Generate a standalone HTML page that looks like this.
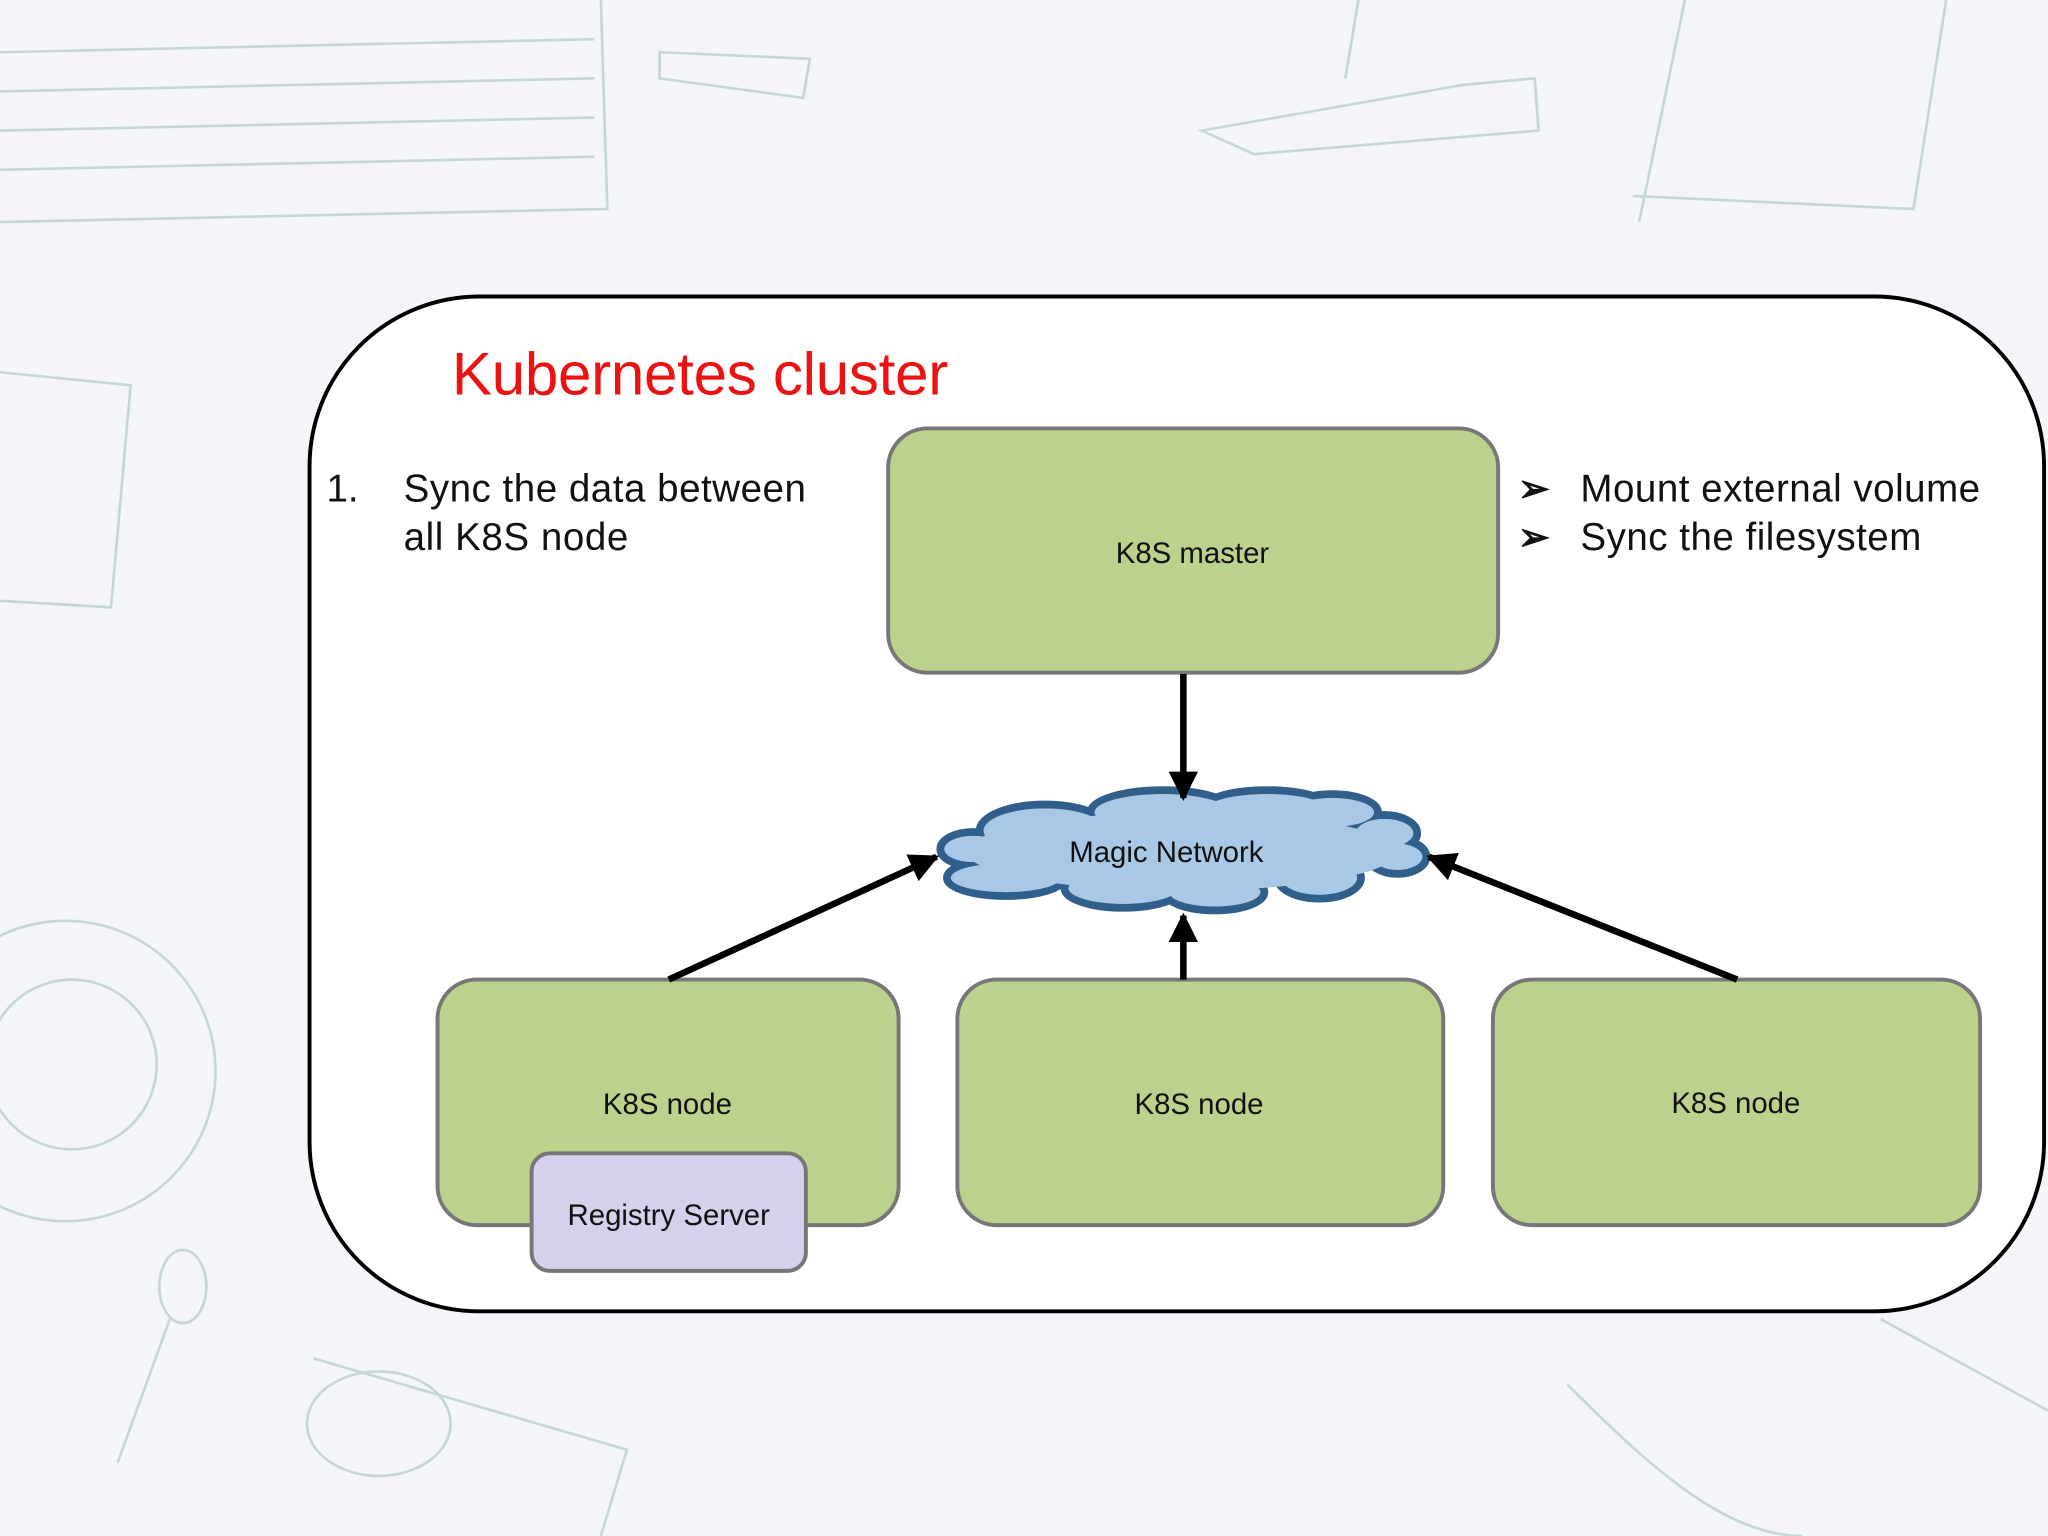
<!DOCTYPE html>
<html><head><meta charset="utf-8"><style>
html,body{margin:0;padding:0;background:#f3f5f9;}
svg{display:block;}
text{font-family:"Liberation Sans",Arial,sans-serif;}
</style></head><body>
<svg width="2048" height="1536" viewBox="0 0 1568 1176" xmlns="http://www.w3.org/2000/svg">
<defs>
<marker id="ah" viewBox="0 0 10 10" refX="9" refY="5" markerWidth="4.5" markerHeight="4.5" orient="auto-start-reverse" markerUnits="strokeWidth">
<path d="M0,0 L10,5 L0,10 z" fill="#000"/></marker>
</defs>
<rect width="1568" height="1176" fill="#f3f5f9"/>
<g fill="none" stroke="#c5d6d6" stroke-width="2">
<path d="M0,170 L465,160 L460,0"/>
<path d="M0,130 L455,120"/><path d="M0,100 L455,90"/><path d="M0,70 L455,60"/><path d="M0,40 L455,30"/>
<path d="M0,285 L100,295 L85,465 L0,460"/>
<circle cx="50" cy="820" r="115"/><circle cx="55" cy="815" r="65"/>
<path d="M505,40 L620,45 L615,75 L505,60 z"/>
<path d="M920,100 L1120,65 L1175,60 L1178,100 L960,118 z"/>
<path d="M1040,0 L1030,60"/><path d="M1290,0 L1255,170"/><path d="M1490,0 L1465,160 L1250,150"/>
<path d="M240,1040 L480,1110 L460,1176"/><ellipse cx="290" cy="1090" rx="55" ry="40"/>
<path d="M90,1120 L130,1010"/><ellipse cx="140" cy="985" rx="18" ry="28"/>
<path d="M1200,1060 C1260,1120 1320,1176 1380,1176"/><path d="M1440,1010 L1568,1080"/>
</g>
<rect x="237" y="227" width="1328" height="777" rx="130" ry="130" fill="#fff" stroke="#000" stroke-width="3"/>
<text x="346" y="302" font-size="46" fill="#ee1111" textLength="380">Kubernetes cluster</text>
<g font-size="29.5" fill="#111">
<text x="250" y="384">1.</text>
<text x="309" y="384" textLength="308">Sync the data between</text>
<text x="309" y="421" textLength="172">all K8S node</text>
<text x="1162" y="384" font-family="DejaVu Sans" font-weight="bold">➢</text>
<text x="1162" y="421" font-family="DejaVu Sans" font-weight="bold">➢</text>
<text x="1210" y="384" textLength="306">Mount external volume</text>
<text x="1210" y="421" textLength="261">Sync the filesystem</text>
</g>
<g stroke="#777" stroke-width="3" fill="#bcd18c">
<rect x="680" y="328" width="467" height="187" rx="30"/>
<rect x="335" y="750" width="353" height="188" rx="30"/>
<rect x="733" y="750" width="372" height="188" rx="30"/>
<rect x="1143" y="750" width="373" height="188" rx="30"/>
<rect x="407" y="883" width="210" height="90" rx="14" fill="#d5d0ec"/>
</g>
<g font-size="22.5" fill="#111" text-anchor="middle">
<text x="913" y="431">K8S master</text>
<text x="511" y="853">K8S node</text>
<text x="918" y="853">K8S node</text>
<text x="1329" y="852">K8S node</text>
<text x="512" y="938">Registry Server</text>
</g>
<g stroke="#2f5f8a" stroke-width="6" fill="#a9c8e6">
<ellipse cx="800" cy="636" rx="50" ry="20"/>
<ellipse cx="890" cy="622" rx="55" ry="17"/>
<ellipse cx="970" cy="620" rx="50" ry="15"/>
<ellipse cx="1020" cy="622" rx="35" ry="14"/>
<ellipse cx="1060" cy="638" rx="25" ry="14"/>
<ellipse cx="1070" cy="656" rx="22" ry="13"/>
<ellipse cx="1010" cy="672" rx="32" ry="16"/>
<ellipse cx="930" cy="683" rx="38" ry="14"/>
<ellipse cx="860" cy="680" rx="45" ry="15"/>
<ellipse cx="770" cy="672" rx="45" ry="14"/>
<ellipse cx="745" cy="650" rx="25" ry="13"/>
</g>
<g fill="#a9c8e6">
<ellipse cx="800" cy="636" rx="47" ry="17"/>
<ellipse cx="890" cy="622" rx="52" ry="14"/>
<ellipse cx="970" cy="620" rx="47" ry="12"/>
<ellipse cx="1020" cy="622" rx="32" ry="11"/>
<ellipse cx="1060" cy="638" rx="22" ry="11"/>
<ellipse cx="1070" cy="656" rx="19" ry="10"/>
<ellipse cx="1010" cy="672" rx="29" ry="13"/>
<ellipse cx="930" cy="683" rx="35" ry="11"/>
<ellipse cx="860" cy="680" rx="42" ry="12"/>
<ellipse cx="770" cy="672" rx="42" ry="11"/>
<ellipse cx="745" cy="650" rx="22" ry="10"/>
<ellipse cx="905" cy="652" rx="165" ry="30"/>
</g>
<text x="893" y="660" font-size="22.5" fill="#111" text-anchor="middle">Magic Network</text>
<g stroke="#000" stroke-width="5" fill="none">
<line x1="906" y1="516" x2="906" y2="611" marker-end="url(#ah)"/>
<line x1="906" y1="750" x2="906" y2="701" marker-end="url(#ah)"/>
<line x1="512" y1="750" x2="717" y2="656" marker-end="url(#ah)"/>
<line x1="1330" y1="750" x2="1094" y2="656" marker-end="url(#ah)"/>
</g>
</svg>
</body></html>
